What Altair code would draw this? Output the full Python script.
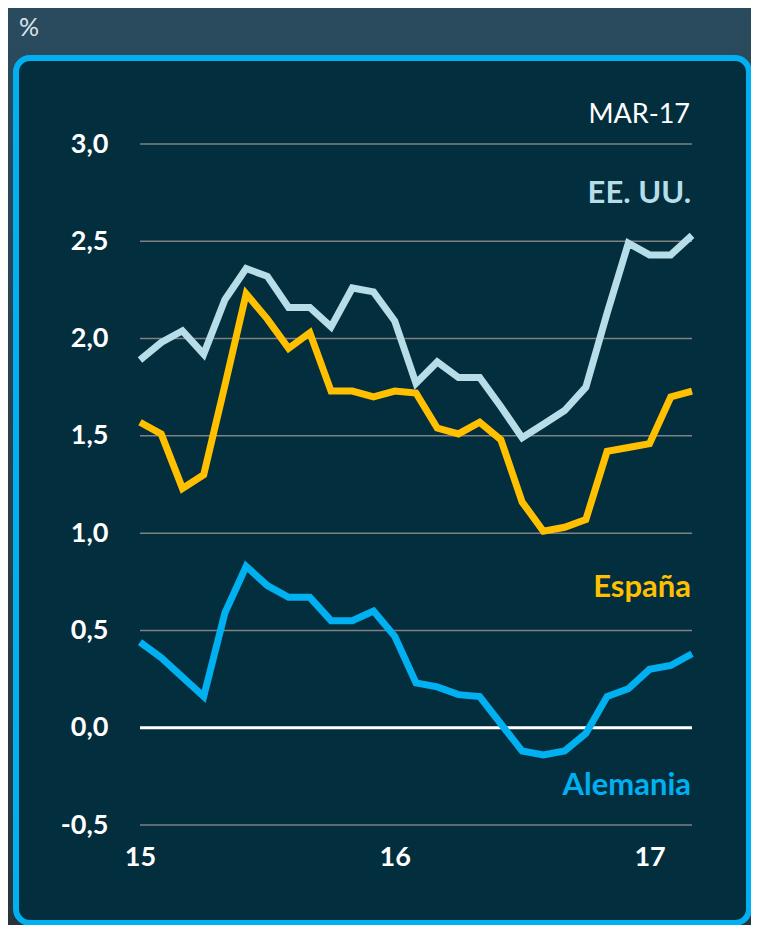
import altair as alt
import pandas as pd

# ---- data ----
months = [f"{m:02d}-{y}" for y in (15, 16, 17) for m in range(1, 13)][:27]
x_label_pos = [0, 12, 24]
x_labels = ["15", "16", "17"]
y_ticks = [-0.5, 0.0, 0.5, 1.0, 1.5, 2.0, 2.5, 3.0]
grid_vals = [-0.5, 0.5, 1.0, 1.5, 2.0, 2.5, 3.0]
zero_line = [0.0]

series = ["EE. UU.", "España", "Alemania"]
colors = ["#b7dde8", "#ffc000", "#00b0f0"]

eeuu = [1.89, 1.98, 2.04, 1.92, 2.20, 2.36, 2.32, 2.16, 2.16, 2.06, 2.26, 2.24,
        2.09, 1.77, 1.88, 1.80, 1.80, 1.65, 1.49, 1.56, 1.63, 1.75, 2.13, 2.49,
        2.43, 2.43, 2.53]
espana = [1.57, 1.51, 1.23, 1.30, 1.76, 2.23, 2.10, 1.95, 2.03, 1.73, 1.73, 1.70,
          1.73, 1.72, 1.54, 1.51, 1.57, 1.48, 1.16, 1.01, 1.03, 1.07, 1.42, 1.44,
          1.46, 1.70, 1.73]
alemania = [0.44, 0.36, 0.26, 0.16, 0.59, 0.83, 0.73, 0.67, 0.67, 0.55, 0.55, 0.60,
            0.47, 0.23, 0.21, 0.17, 0.16, 0.02, -0.12, -0.14, -0.12, -0.03, 0.16, 0.20,
            0.30, 0.32, 0.38]

rows = []
for name, vals in zip(series, [eeuu, espana, alemania]):
    for i, (m, v) in enumerate(zip(months, vals)):
        rows.append({"serie": name, "mes": m, "idx": i, "valor": v})
df = pd.DataFrame(rows)

FONT = "Lato"
xscale = alt.Scale(domain=[0, 26], nice=False, zero=False)
yscale = alt.Scale(domain=[-0.5, 3.0], nice=False, zero=False)
one = pd.DataFrame({"a": [0]})

y_axis = alt.Axis(
    values=y_ticks,
    labelExpr="replace(replace(format(datum.value, '.1f'), '.', ','), '\u2212', '-')",
    domain=False, ticks=False, tickSize=0, grid=False,
    labelPadding=32, labelFlush=False, labelOverlap=False,
    labelFont=FONT, labelFontSize=27, labelFontWeight="bold",
    labelColor="#ffffff", zindex=1)

x_expr = "[" + ",".join(f"'{s}'" for s in x_labels) + "][round(datum.value / 12)]"
x_axis = alt.Axis(
    values=x_label_pos, labelExpr=x_expr, domain=False,
    ticks=False, tickSize=0, grid=False, labelPadding=19,
    labelFlush=False, labelOverlap=False, labelFont=FONT,
    labelFontSize=27, labelFontWeight="bold",
    labelColor="#ffffff", zindex=1)

bg = alt.Chart(one).mark_rect(
    fill={"gradient": "linear", "x1": 0, "y1": 0, "x2": 0, "y2": 1,
          "stops": [{"offset": 0, "color": "#2a4b5e"},
                    {"offset": 1, "color": "#28343d"}]}
).encode(x=alt.value(-132), x2=alt.value(611), y=alt.value(-136), y2=alt.value(781))

box = alt.Chart(one).mark_rect(
    fill="#032e3e", stroke="#00b0f0", strokeWidth=6, cornerRadius=14
).encode(x=alt.value(-124), x2=alt.value(609), y=alt.value(-86), y2=alt.value(779))

grid = alt.Chart(pd.DataFrame({"v": grid_vals})).mark_rule(
    color="#808080", strokeWidth=1.5
).encode(y=alt.Y("v:Q", scale=yscale, axis=y_axis, title=None))

zero = alt.Chart(pd.DataFrame({"v": zero_line})).mark_rule(
    color="#ffffff", strokeWidth=3
).encode(y=alt.Y("v:Q", scale=yscale, axis=y_axis, title=None))

lines = alt.Chart(df).mark_line(strokeWidth=7).encode(
    x=alt.X("idx:Q", scale=xscale, title=None, axis=x_axis),
    y=alt.Y("valor:Q", scale=yscale, title=None, axis=y_axis),
    color=alt.Color("serie:N", scale=alt.Scale(domain=series, range=colors), legend=None),
    detail="serie:N",
)


def label(text, x, y, color, size, weight, align="right"):
    return alt.Chart(one).mark_text(
        text=text, font=FONT, fontSize=size, fontWeight=weight, color=color,
        align=align, baseline="alphabetic"
    ).encode(x=alt.value(x), y=alt.value(y))


texts = [
    label("%", -121, -108, "#dce4e9", 25, "normal", align="left"),
    label("MAR-17", 550, -21, "#ffffff", 27, "normal"),
    label(series[0], 551, 59, colors[0], 31, "bold"),
    label(series[1], 551, 453, colors[1], 31, "bold"),
    label(series[2], 551, 651, colors[2], 31, "bold"),
]

chart = alt.layer(bg, box, grid, zero, lines, *texts).properties(
    width=552, height=681,
    padding={"left": 132, "top": 136, "right": 59, "bottom": 100},
    autosize=alt.AutoSizeParams(type="none"),
    background="#2a4252",
).configure_view(strokeWidth=0)

chart.save("out.html", embed_options={"renderer": "svg", "actions": False})
